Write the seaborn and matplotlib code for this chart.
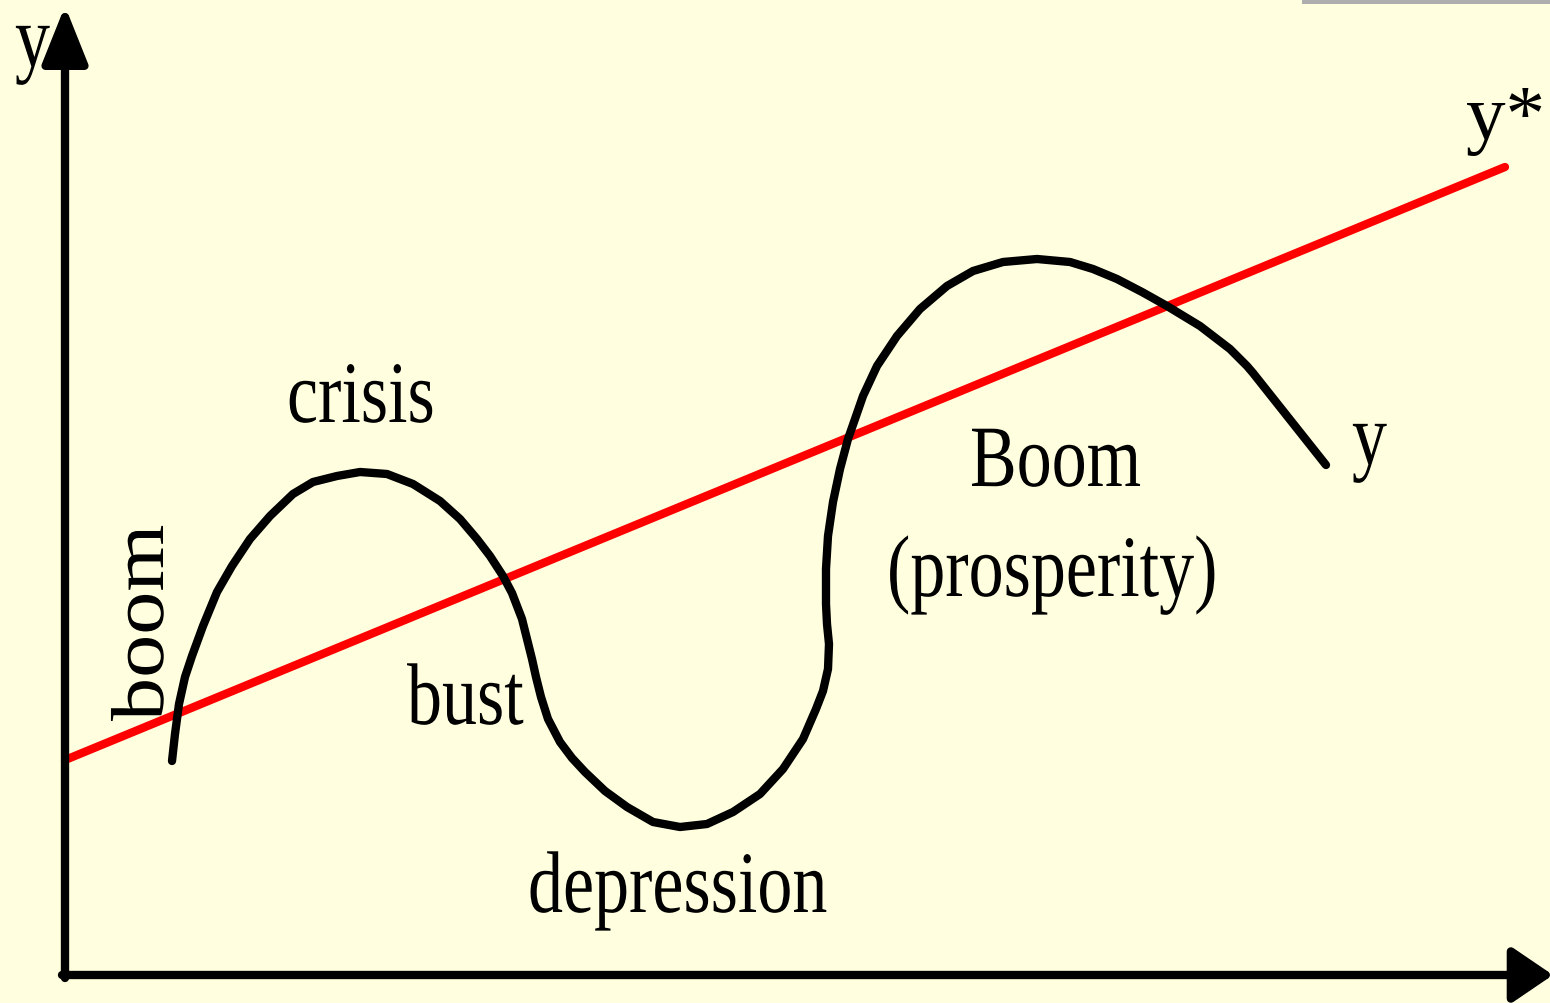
import numpy as np
import pandas as pd
import matplotlib
matplotlib.use('Agg')
import matplotlib.pyplot as plt
from matplotlib import patheffects
from matplotlib.patches import Rectangle
from matplotlib.transforms import Affine2D
import seaborn as sns

BG_COLOR = '#FFFFE0'
CYCLE_COLOR = 'black'
TREND_COLOR = '#FF0000'

# actual output y (hand drawn business cycle), time on x
cycle_t = [172, 175, 179, 185, 192, 203, 217, 232, 250, 270, 293, 313, 337, 360,
           387, 413, 440, 460, 477, 490, 503, 512, 522, 527, 532, 536, 541, 548,
           560, 572, 585, 605, 627, 653, 680, 707, 733, 760, 783, 803, 816, 823,
           828, 829, 827, 826, 826, 828, 833, 840, 848, 855, 863, 877, 897, 920,
           947, 973, 1003, 1037, 1070, 1093, 1117, 1142, 1167, 1200, 1230, 1247,
           1253, 1326]
cycle_y = [242, 269, 299, 326, 347, 377, 411, 437, 464, 487, 509, 521, 527, 531,
           529, 519, 502, 484, 464, 447, 427, 410, 384, 364, 344, 326, 306, 284,
           261, 245, 231, 212, 196, 181, 176, 179, 191, 209, 234, 264, 294, 312,
           334, 359, 379, 399, 434, 467, 501, 534, 564, 584, 607, 637, 667, 694,
           717, 732, 741, 744, 741, 734, 724, 711, 697, 677, 654, 637,
           630, 538]

# potential output y* (trend)
trend_t = [65, 1505]
trend_y = [243, 836]

# phase labels
phase_labels = ['crisis', 'bust', 'depression', 'Boom', '(prosperity)']


class Squeeze(patheffects.AbstractPathEffect):
    """narrow the glyphs along the text direction (condensed look)"""
    def __init__(self, sx):
        super().__init__()
        self.sx = sx

    def draw_path(self, renderer, gc, tpath, affine, rgbFace=None):
        renderer.draw_path(gc, tpath, Affine2D().scale(self.sx, 1) + affine, rgbFace)


sns.set_style('white')
plt.rcParams['font.family'] = ['Liberation Serif', 'DejaVu Serif']

fig = plt.figure(figsize=(15.5, 10.04), dpi=100, facecolor=BG_COLOR)
ax = fig.add_axes([0, 0, 1, 1])
ax.set_facecolor(BG_COLOR)
ax.set_xlim(0, 1550)
ax.set_ylim(0, 1004)
ax.axis('off')

cycle_df = pd.DataFrame({'t': cycle_t, 'y': cycle_y})
trend_df = pd.DataFrame({'t': trend_t, 'y': trend_y})

sns.lineplot(data=trend_df, x='t', y='y', color=TREND_COLOR,
             solid_capstyle='round', ax=ax, legend=False)
sns.lineplot(data=cycle_df, x='t', y='y', sort=False, estimator=None,
             color=CYCLE_COLOR, solid_joinstyle='round',
             solid_capstyle='round', ax=ax, legend=False)
# seaborn keeps its own default width, so set it on the lines afterwards
for line in ax.lines:
    line.set_linewidth(6.0)

# axes with arrow heads
ax.annotate('', xy=(65, 997), xytext=(65, 25), annotation_clip=False,
            arrowprops=dict(arrowstyle='-|>,head_length=0.35,head_width=0.14',
                            mutation_scale=100, lw=6.0, color='black',
                            shrinkA=0, shrinkB=0))
ax.annotate('', xy=(1553, 28), xytext=(62, 28), annotation_clip=False,
            arrowprops=dict(arrowstyle='-|>,head_length=0.25,head_width=0.17',
                            mutation_scale=100, lw=6.0, color='black',
                            shrinkA=0, shrinkB=0))

# grey strip at the top right of the slide
ax.add_patch(Rectangle((1302, 999), 248, 6, color='#AEAEAE', lw=0, clip_on=False))

sq = [Squeeze(0.8)]
txt = dict(fontsize=63, color='black', ha='left', va='baseline', path_effects=sq)

ax.text(15, 937, 'y', **txt)
ax.text(1466, 865, 'y*', fontsize=57, color='black', ha='left', va='baseline')
ax.text(1352, 539, 'y', **txt)

ax.text(287, 581, phase_labels[0], **txt)
ax.text(407, 279, phase_labels[1], **txt)
ax.text(528, 91, phase_labels[2], **txt)
ax.text(970, 517, phase_labels[3], **txt)
ax.text(887, 407, phase_labels[4], **txt)

ax.text(163, 282, 'boom', fontsize=54, color='black', rotation=90,
        rotation_mode='anchor', ha='left', va='baseline',
        path_effects=[Squeeze(1.15)])

fig.savefig('out.png', dpi=100, facecolor=BG_COLOR)
